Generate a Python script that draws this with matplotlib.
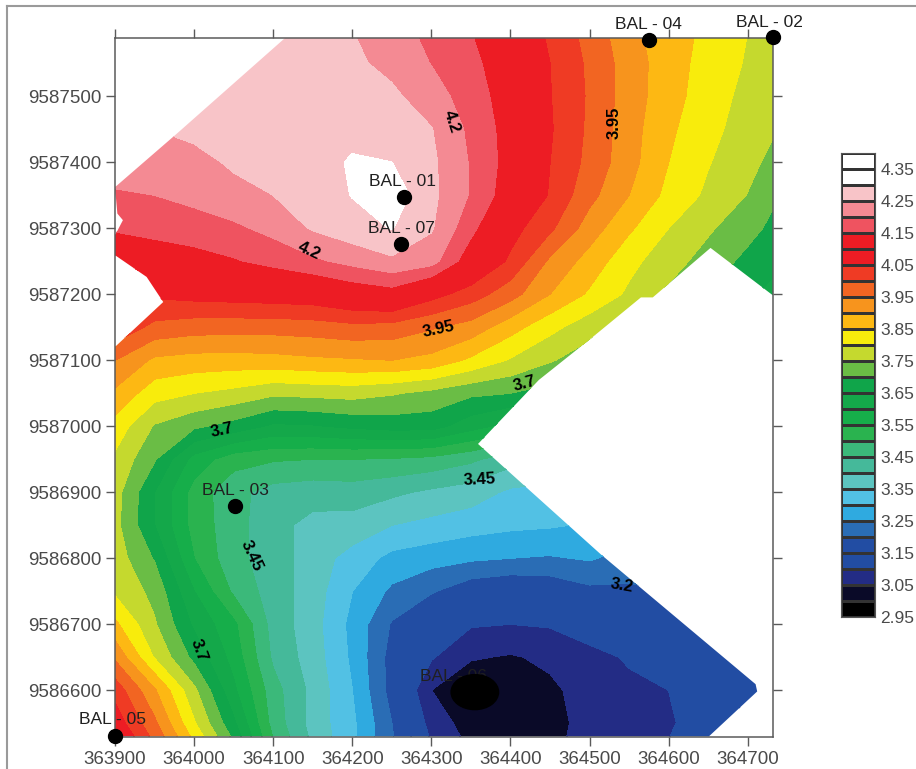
import numpy as np
import matplotlib
matplotlib.use('Agg')
import matplotlib.pyplot as plt
from matplotlib.lines import Line2D
from matplotlib.patches import Polygon, Ellipse

plt.rcParams['font.family'] = ['Liberation Sans', 'DejaVu Sans']

# Grid nodes, every 50 m
x_nodes = [363900 + 50 * i for i in range(18)]
y_nodes = [9587600 - 50 * i for i in range(23)]

# Values at the nodes, one row per y_nodes entry (top row first)
z_rows = [
    [4.30, 4.30, 4.30, 4.30, 4.295, 4.275, 4.25, 4.22, 4.185, 4.15, 4.095, 4.04, 3.98, 3.915, 3.87, 3.84, 3.80, 3.76],
    [4.29, 4.29, 4.29, 4.29, 4.285, 4.275, 4.26, 4.235, 4.198, 4.165, 4.11, 4.05, 3.99, 3.925, 3.873, 3.83, 3.795, 3.75],
    [4.28, 4.28, 4.285, 4.285, 4.285, 4.28, 4.27, 4.26, 4.222, 4.175, 4.122, 4.052, 3.993, 3.925, 3.87, 3.824, 3.785, 3.747],
    [4.26, 4.25, 4.262, 4.28, 4.285, 4.285, 4.285, 4.28, 4.252, 4.188, 4.127, 4.055, 3.99, 3.92, 3.86, 3.813, 3.78, 3.74],
    [4.22, 4.22, 4.235, 4.257, 4.27, 4.28, 4.305, 4.30, 4.26, 4.195, 4.128, 4.05, 3.985, 3.918, 3.85, 3.803, 3.765, 3.72],
    [4.195, 4.20, 4.215, 4.235, 4.25, 4.27, 4.302, 4.33, 4.262, 4.195, 4.118, 4.045, 3.965, 3.90, 3.835, 3.79, 3.748, 3.69],
    [4.155, 4.165, 4.175, 4.19, 4.215, 4.255, 4.28, 4.302, 4.255, 4.165, 4.07, 4.01, 3.925, 3.858, 3.80, 3.757, 3.718, 3.67],
    [4.11, 4.12, 4.13, 4.145, 4.165, 4.19, 4.215, 4.24, 4.22, 4.115, 4.04, 3.94, 3.88, 3.815, 3.77, 3.73, 3.685, 3.65],
    [4.05, 4.06, 4.07, 4.075, 4.08, 4.085, 4.11, 4.125, 4.07, 4.025, 3.97, 3.90, 3.842, 3.79, 3.74, 3.70, 3.66, 3.62],
    [4.04, 3.985, 3.972, 3.97, 3.97, 3.975, 3.985, 3.98, 3.955, 3.93, 3.87, 3.815, 3.77, 3.73, 3.70, 3.67, 3.63, 3.60],
    [3.95, 3.89, 3.88, 3.878, 3.882, 3.89, 3.895, 3.90, 3.885, 3.84, 3.795, 3.755, 3.72, 3.70, 3.67, 3.64, 3.61, 3.58],
    [3.89, 3.82, 3.80, 3.785, 3.76, 3.765, 3.77, 3.755, 3.735, 3.71, 3.70, 3.68, 3.66, 3.64, 3.62, 3.60, 3.58, 3.55],
    [3.83, 3.745, 3.71, 3.68, 3.64, 3.645, 3.66, 3.67, 3.67, 3.62, 3.58, 3.56, 3.54, 3.52, 3.50, 3.48, 3.46, 3.44],
    [3.79, 3.705, 3.58, 3.52, 3.505, 3.50, 3.50, 3.495, 3.485, 3.46, 3.42, 3.40, 3.38, 3.36, 3.34, 3.32, 3.30, 3.28],
    [3.77, 3.65, 3.53, 3.465, 3.43, 3.42, 3.425, 3.41, 3.39, 3.375, 3.34, 3.33, 3.32, 3.31, 3.30, 3.29, 3.28, 3.27],
    [3.765, 3.65, 3.53, 3.47, 3.415, 3.385, 3.38, 3.35, 3.335, 3.32, 3.31, 3.305, 3.295, 3.28, 3.27, 3.26, 3.25, 3.24],
    [3.775, 3.695, 3.55, 3.465, 3.425, 3.375, 3.33, 3.285, 3.27, 3.258, 3.25, 3.245, 3.255, 3.23, 3.22, 3.21, 3.20, 3.20],
    [3.79, 3.735, 3.60, 3.49, 3.425, 3.375, 3.30, 3.24, 3.205, 3.165, 3.15, 3.16, 3.187, 3.19, 3.20, 3.20, 3.20, 3.20],
    [3.86, 3.755, 3.64, 3.56, 3.43, 3.37, 3.285, 3.195, 3.14, 3.105, 3.10, 3.105, 3.125, 3.16, 3.18, 3.20, 3.20, 3.21],
    [3.94, 3.795, 3.685, 3.58, 3.44, 3.375, 3.29, 3.18, 3.105, 3.055, 3.045, 3.06, 3.085, 3.105, 3.14, 3.18, 3.20, 3.22],
    [4.03, 3.905, 3.76, 3.61, 3.47, 3.385, 3.30, 3.18, 3.05, 3.01, 3.03, 3.04, 3.07, 3.09, 3.10, 3.13, 3.165, 3.18],
    [4.08, 3.96, 3.805, 3.66, 3.48, 3.38, 3.31, 3.20, 3.08, 3.025, 3.02, 3.035, 3.065, 3.085, 3.095, 3.12, 3.15, 3.17],
    [4.18, 4.02, 3.878, 3.73, 3.52, 3.40, 3.31, 3.21, 3.11, 3.05, 3.03, 3.04, 3.07, 3.09, 3.105, 3.13, 3.16, 3.18],
]

# Outline of the contoured area
outline_x = [363900, 363980, 364115, 364732, 364732, 364653, 364580, 364565, 364502, 364436, 364359,
             364514, 364710, 364712, 364651, 363900, 363900, 363961, 363940, 363900, 363900, 363910, 363903]
outline_y = [9587362, 9587445, 9587588, 9587588, 9587198, 9587270, 9587195, 9587195, 9587133, 9587070, 9586973,
             9586806, 9586609, 9586598, 9586530, 9586530, 9587120, 9587188, 9587226, 9587259, 9587289, 9587312, 9587322]

levels = [round(2.95 + 0.05 * i, 2) for i in range(30)]
band_colors = ['#000000', '#0a0a28', '#232c85', '#224da3', '#224da3', '#2a6db5', '#2faae0', '#52c1e4',
               '#5cc4c0', '#45b99a', '#3bb97a', '#2ab34f', '#16ae4a', '#14a84a', '#10a54a', '#6abd45',
               '#c5d92e', '#f8ec0c', '#fdb813', '#f7941d', '#f26522', '#ef3b24', '#ed1c24', '#ed1c24',
               '#ef5360', '#f48a93', '#f8c4c8', '#ffffff', '#ffffff']

x_ticks = [363900 + 100 * i for i in range(9)]
y_ticks = [9586600 + 100 * i for i in range(10)]
bar_labels = [2.95 + 0.1 * i for i in range(15)]

well_names = ['BAL - 01', 'BAL - 07', 'BAL - 03', 'BAL - 04', 'BAL - 02', 'BAL - 05', 'BAL - 06']
well_x = [364266, 364262, 364052, 364575, 364732, 363900, 364355]
well_y = [9587347, 9587276, 9586879, 9587585, 9587589, 9586530, 9586597]
well_label_x = [364263, 364262, 364052, 364574, 364727, 363897, 364328]
well_label_y = [9587370, 9587300, 9586902, 9587608, 9587612, 9586555, 9586620]

contour_labels = ['4.2', '3.95', '4.2', '3.95', '3.7', '3.7', '3.45', '3.45', '3.2', '3.7']
label_x = [364326, 364531, 364145, 364309, 364418, 364035, 364361, 364073, 364541, 364006]
label_y = [9587462, 9587459, 9587266, 9587147, 9587065, 9586994, 9586919, 9586803, 9586759, 9586660]
label_rot = [-72, 90, -25, 12, 15, 12, 3, -65, -10, -70]

GREY = '#5a5a5a'

fig = plt.figure(figsize=(9.16, 7.69), dpi=100, facecolor='white')
ax = fig.add_axes([115 / 916, 1 - 737 / 769, 658 / 916, 699 / 769])

# Contoured surface, cut to the outline
cs = ax.contourf(x_nodes, y_nodes, np.array(z_rows), levels=levels, colors=band_colors)
cs.set_edgecolor('face')
cs.set_linewidth(0.3)
outline = Polygon(np.column_stack([outline_x, outline_y]), transform=ax.transData)
cs.set_clip_path(outline)

ax.set_xlim(363900, 364732)
ax.set_ylim(9586529, 9587588)
ax.set_xticks(x_ticks)
ax.set_yticks(y_ticks)
ax.ticklabel_format(useOffset=False, style='plain')
ax.tick_params(axis='both', which='major', direction='out', length=6.5, width=1, color=GREY,
               labelcolor='#4a4a4a', labelsize=13.5, pad=3.5, top=True, right=True)
for spine in ax.spines.values():
    spine.set_color(GREY)
    spine.set_linewidth(1.1)

# Contour value labels
for name, lx, ly, rot in zip(contour_labels, label_x, label_y, label_rot):
    ax.text(lx, ly, name, rotation=rot, ha='center', va='center', fontsize=12, fontweight='bold',
            color='black', zorder=5)

# Wells
for name, lx, ly in zip(well_names, well_label_x, well_label_y):
    ax.text(lx, ly, name, ha='center', va='center', fontsize=12.5, color='#202020', zorder=6, clip_on=False)
ax.plot(well_x[:-1], well_y[:-1], 'o', color='black', ms=10, clip_on=False, zorder=7)
ax.add_patch(Ellipse((well_x[-1], well_y[-1]), 60, 53, color='black', zorder=7))

# Colour bar
cax = fig.add_axes([841 / 916, 1 - 617 / 769, 34 / 916, 464 / 769])
cax.pcolormesh([0, 1], levels, np.arange(29).reshape(-1, 1), cmap=matplotlib.colors.ListedColormap(band_colors),
               edgecolors='#333333', linewidth=1)
cax.set_xticks([])
cax.set_yticks(bar_labels)
cax.set_yticklabels([f'{v:.2f}' for v in bar_labels])
cax.yaxis.tick_right()
cax.tick_params(axis='y', length=0, labelsize=12.5, labelcolor='#4a4a4a', pad=4)
for spine in cax.spines.values():
    spine.set_color('#555555')

# Page border of the scanned figure
fig.add_artist(Line2D([7 / 916, 7 / 916], [0, 1 - 6 / 769], color='#9a9a9a', lw=1.5))
fig.add_artist(Line2D([7 / 916, 1], [1 - 6 / 769, 1 - 6 / 769], color='#9a9a9a', lw=1.5))

fig.savefig('out.png', dpi=100)
